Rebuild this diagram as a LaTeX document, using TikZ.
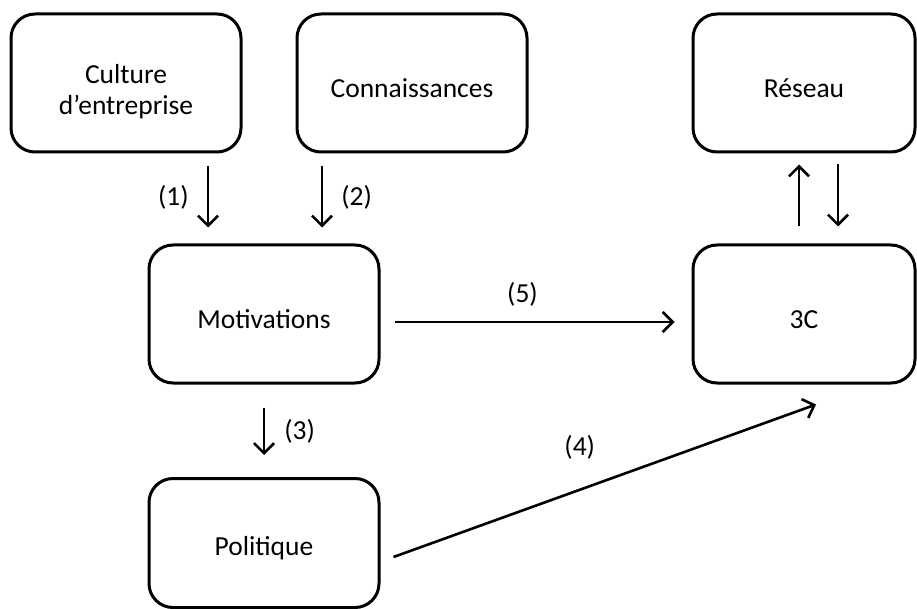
\documentclass[tikz,border=0pt]{standalone}
\usepackage{fontspec}
\setmainfont{Carlito}
\usetikzlibrary{arrows.meta}

\tikzset{
  box/.style={draw,rounded corners=24pt,line width=3pt,minimum width=230pt,
    minimum height=138pt,align=center,font=\fontsize{27.5}{31}\selectfont,
    execute at begin node={\rule{0pt}{30pt}}},
  arr/.style={line width=2.6pt,-{Straight Barb[length=10pt,width=20pt]}},
  lbl/.style={inner sep=0pt,font=\fontsize{27.5}{31}\selectfont}
}

\begin{document}
\begin{tikzpicture}[x=1pt,y=-1pt]
  \useasboundingbox (0,0) rectangle (917,609);

  \node[box] (cult) at (126,83) {\rule{0pt}{36pt}Culture\\d’entreprise};
  \node[box] (conn) at (412,83) {Connaissances};
  \node[box,minimum width=222pt] (res) at (804,83) {Réseau};
  \node[box] (motiv) at (264,314) {Motivations};
  \node[box,minimum width=222pt] (trois) at (804,314) {3C};
  \node[box,minimum height=129pt] (polit) at (264,543) {Politique};

  \draw[arr] ([shift={(82,13)}]cult.south) -- node[lbl,left=18pt]{(1)} ([shift={(-56,-16)}]motiv.north);
  \draw[arr] ([shift={(-90,13)}]conn.south) -- node[lbl,right=18pt]{(2)} ([shift={(58,-16)}]motiv.north);
  \draw[arr] ([shift={(0,23)}]motiv.south) -- node[lbl,right=19pt]{(3)} ([shift={(0,-22)}]polit.north);
  \draw[arr] ([shift={(14,8)}]motiv.east) -- node[lbl,above=14pt,xshift=-12pt]{(5)} ([shift={(-17,8)}]trois.west);
  \draw[arr] ([shift={(13,14)}]polit.east) -- node[lbl,shift={(-25,-33)}]{(4)} ([shift={(12,20)}]trois.south);

  % Reseau <-> 3C
  \draw[arr] ([shift={(-5,-17)}]trois.north) -- ([shift={(-5,11)}]res.south);
  \draw[arr] ([shift={(34,11)}]res.south) -- ([shift={(34,-17)}]trois.north);
\end{tikzpicture}
\end{document}
